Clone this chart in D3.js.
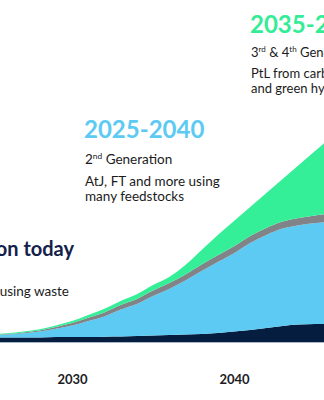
<!DOCTYPE html>
<html>
<head>
<meta charset="utf-8">
<script src="https://cdn.jsdelivr.net/npm/d3@7"></script>
<style>
  html, body { margin: 0; padding: 0; background: #fff; overflow: hidden; }
  svg { display: block; font-family: Lato, "Open Sans", sans-serif; }
</style>
</head>
<body>
<svg id="chart" width="324" height="400"></svg>
<script>
// SAF production ramp-up by technology generation (stacked)
const years = [2025, 2026, 2027, 2028, 2029, 2030, 2031, 2032, 2033, 2034, 2035,
               2036, 2037, 2038, 2039, 2040, 2041, 2042, 2043, 2044, 2045, 2046];
const firstGen  = [2.2, 2.2, 2.2, 2.3, 2.5, 2.5, 2.5, 2.6, 2.7, 3.0, 3.2,
                   3.5, 3.7, 4.0, 4.5, 5.2, 6.0, 7.0, 8.0, 8.7, 9.0, 9.0];
const secondGen = [1.2, 1.5, 2.2, 2.9, 4.1, 5.7, 8.0, 10.2, 13.5, 16.0, 19.8,
                   23.0, 27.0, 31.5, 35.5, 39.2, 43.5, 46.5, 48.7, 49.7, 50.5, 51.2];
const otherGen  = [0.15, 0.25, 0.4, 0.6, 0.9, 1.25, 1.6, 2.0, 2.25, 2.5, 2.75,
                   3.0, 3.1, 3.25, 3.4, 3.5, 3.5, 3.5, 3.5, 3.6, 3.8, 4.0];
const thirdGen  = [0.3, 0.4, 0.5, 0.6, 0.75, 1.0, 1.4, 1.8, 2.1, 2.4, 2.7,
                   3.0, 4.7, 7.25, 10.1, 12.6, 14.5, 17.5, 21.3, 26.5, 32.2, 38.3];
const tickYears = [2030, 2040];

const seriesKeys = ["first", "second", "other", "third"];
const seriesColors = { first: "#051d3f", second: "#5ccaf2", other: "#808387", third: "#34ef98" };

const rows = years.map((y, i) => ({
  year: y, first: firstGen[i], second: secondGen[i], other: otherGen[i], third: thirdGen[i]
}));

const svg = d3.select("#chart");

const x = d3.scaleLinear().domain([2030, 2040]).range([72, 234]);
const y = d3.scaleLinear().domain([0, 171]).range([342, 0]);

const layers = d3.stack().keys(seriesKeys)(rows);

const area = d3.area()
  .curve(d3.curveMonotoneX)
  .x(d => x(d.data.year))
  .y0(d => y(d[0]))
  .y1(d => y(d[1]));

svg.append("g")
  .selectAll("path")
  .data(layers)
  .join("path")
  .attr("d", area)
  .attr("fill", d => seriesColors[d.key]);

// baseline
svg.append("line")
  .attr("x1", x(2024)).attr("x2", x(2047))
  .attr("y1", y(0) + 0.5).attr("y2", y(0) + 0.5)
  .attr("stroke", "#a9b6c8").attr("stroke-width", 1);

// x axis
const axis = d3.axisBottom(x).tickValues(tickYears).tickFormat(d3.format("d")).tickSize(0);
const gx = svg.append("g").attr("transform", `translate(0, ${y(0)})`).call(axis);
gx.select(".domain").remove();
gx.selectAll("text")
  .attr("dy", null)
  .attr("y", 42)
  .attr("fill", "#1d1d1f")
  .style("font-family", "Lato, sans-serif")
  .style("font-size", "13px")
  .style("font-weight", 700);

// generation annotations
function sup(textSel, parts) {
  parts.forEach(p => {
    const t = textSel.append("tspan").text(p.t);
    if (p.sup) t.attr("font-size", "0.62em").attr("baseline-shift", "super");
  });
}

const ink = "#1b1b1b";
const notes = svg.append("g");

// today
notes.append("text")
  .attr("x", 74).attr("y", 256).attr("text-anchor", "end")
  .attr("fill", "#13214a").attr("font-size", 20).attr("font-weight", 700)
  .text("Production today");
notes.append("text")
  .attr("x", 69).attr("y", 296).attr("text-anchor", "end")
  .attr("fill", ink).attr("font-size", 13.5)
  .text("HEFA using waste");

// 2025-2040
notes.append("text")
  .attr("x", 84).attr("y", 138)
  .attr("fill", "#5ccaf2").attr("font-size", 24).attr("font-weight", 700)
  .text("2025-2040");
sup(notes.append("text").attr("x", 85).attr("y", 164).attr("fill", ink).attr("font-size", 13.5),
    [{ t: "2" }, { t: "nd", sup: true }, { t: " Generation" }]);
notes.append("text").attr("x", 85).attr("y", 186).attr("fill", ink).attr("font-size", 13.5)
  .text("AtJ, FT and more using");
notes.append("text").attr("x", 85).attr("y", 201).attr("fill", ink).attr("font-size", 13.5)
  .text("many feedstocks");

// 2035-2050
notes.append("text")
  .attr("x", 250).attr("y", 33)
  .attr("fill", "#34ec96").attr("font-size", 24).attr("font-weight", 700)
  .text("2035-2050");
sup(notes.append("text").attr("x", 251).attr("y", 57).attr("fill", ink).attr("font-size", 13),
    [{ t: "3" }, { t: "rd", sup: true }, { t: " & 4" }, { t: "th", sup: true }, { t: " Generation" }]);
notes.append("text").attr("x", 251).attr("y", 78).attr("fill", ink).attr("font-size", 13)
  .text("PtL from carbon capture");
notes.append("text").attr("x", 251).attr("y", 93).attr("fill", ink).attr("font-size", 13)
  .text("and green hydrogen");
</script>
</body>
</html>
